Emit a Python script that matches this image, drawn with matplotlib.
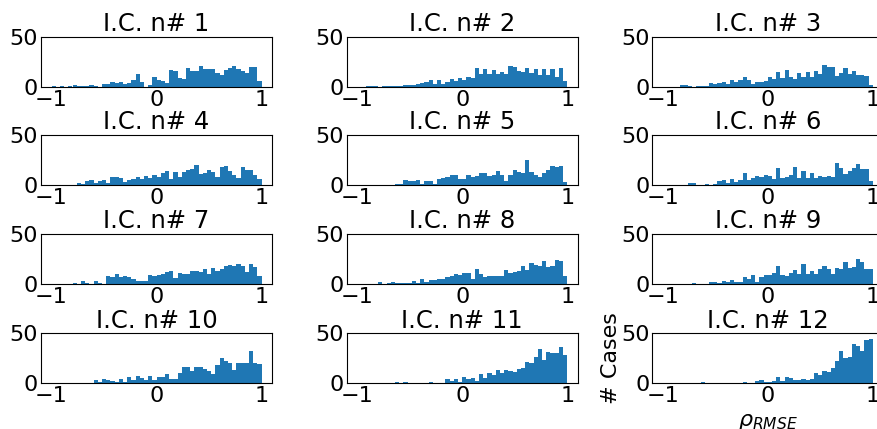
import numpy as np
import matplotlib
matplotlib.use("Agg")
import matplotlib.pyplot as plt

# histogram bin edges: 50 bins on [-1, 1]
n_bins = 50
titles = [f"I.C. n# {k}" for k in range(1, 13)]

counts_1 = [1,0,1,0,1,2,1,1,1,2, 1,0,3,3,5,4,5,3,4,7, 13,5,0,2,10,7,6,4,17,16,
            9,8,19,16,16,21,18,18,18,14, 12,17,19,21,18,16,14,20,20,6]
counts_2 = [0,0,1,1,1,0,1,1,1,1, 1,2,2,2,3,4,5,7,3,7, 3,5,8,6,9,7,10,9,19,13,
            18,13,17,13,15,13,21,20,16,15, 19,14,18,12,18,12,18,10,19,6]
counts_3 = [0,0,0,0,2,2,1,0,1,1, 1,4,3,4,5,3,7,5,7,10, 7,3,5,5,6,10,8,15,9,17,
            10,8,14,10,15,10,16,13,22,20, 20,11,14,19,13,16,12,12,11,2]
counts_4 = [0,0,0,0,0,0,2,1,4,5, 2,4,5,2,8,8,7,3,5,6, 8,6,9,7,10,8,12,14,6,13,
            8,13,15,16,20,11,12,15,13,8, 18,19,14,10,7,18,15,15,10,6]
counts_5 = [0,0,0,0,0,0,0,0,0,1, 1,5,4,4,5,1,4,4,1,6, 7,8,10,10,6,6,10,8,9,12,
            12,9,10,14,10,4,10,15,13,12, 25,13,10,8,12,15,19,18,19,3]
counts_6 = [0,0,0,0,0,0,2,2,0,0, 1,0,1,4,5,2,6,3,5,12, 5,7,9,8,10,9,6,17,7,8,
            10,18,7,14,7,12,7,9,8,9, 8,22,17,11,14,17,21,16,16,4]
counts_7 = [0,0,0,0,0,1,0,3,1,0, 3,1,0,8,7,10,7,8,7,5, 3,3,3,9,8,9,10,12,13,6,
            11,10,10,13,13,12,15,10,16,13, 15,18,19,18,20,18,12,20,17,8]
counts_8 = [0,0,0,0,0,2,0,1,2,1, 1,1,1,3,1,5,2,4,4,5, 5,7,8,10,9,11,11,5,15,10,
            7,8,8,8,8,14,11,12,13,18, 14,21,19,18,23,17,18,24,23,8]
counts_9 = [0,0,0,0,0,0,0,1,0,0, 0,2,2,1,3,2,4,2,2,7, 5,9,2,7,9,9,11,18,9,8,
            11,14,10,20,10,13,10,15,18,15, 10,16,15,22,16,17,25,22,15,15]
counts_10 = [0,0,0,0,0,0,0,0,0,0, 3,1,4,3,2,1,4,1,6,3, 7,5,3,7,3,6,6,9,4,4,
             10,16,16,12,16,16,14,12,9,18, 25,22,20,13,20,20,20,32,20,19]
counts_11 = [0,0,0,0,0,0,0,0,0,1, 0,1,0,0,0,0,0,1,0,0, 0,4,2,4,1,6,4,5,2,9,
             5,10,8,13,10,13,12,11,14,15, 21,20,26,34,23,31,30,30,36,28]
counts_12 = [0,0,0,0,0,0,0,0,0,1, 0,0,0,0,0,0,0,0,0,1, 0,0,2,3,1,1,2,6,2,6,
             5,3,3,4,3,4,10,8,12,11, 15,22,32,25,26,39,37,32,43,44]

all_counts = [counts_1, counts_2, counts_3, counts_4, counts_5, counts_6,
              counts_7, counts_8, counts_9, counts_10, counts_11, counts_12]

edges = np.linspace(-1, 1, n_bins + 1)
centers = 0.5 * (edges[:-1] + edges[1:])

W, H = 877, 429
fig = plt.figure(figsize=(W / 100, H / 100), dpi=100)

col_left = [41, 346.7, 652.3]
row_top = [37, 135, 234, 333.3]
ax_w, ax_h = 231, 50

fs = 16
for k in range(12):
    r, c = divmod(k, 3)
    left = col_left[c] / W
    bottom = 1 - (row_top[r] + ax_h) / H
    ax = fig.add_axes([left, bottom, ax_w / W, ax_h / H])
    ax.hist(centers, bins=edges, weights=all_counts[k], color="#1f77b4")
    ax.set_ylim(0, 50)
    ax.set_yticks([0, 50])
    ax.set_xticks([-1, 0, 1])
    ax.tick_params(labelsize=fs, length=0, pad=2)
    ax.set_title(titles[k], fontsize=fs + 1.5, pad=4)
    if k == 11:
        ax.set_ylabel("# Cases", fontsize=fs, labelpad=0)
        ax.set_xlabel(r"$\rho_{RMSE}$", fontsize=fs)

fig.savefig("out.png", dpi=100)
